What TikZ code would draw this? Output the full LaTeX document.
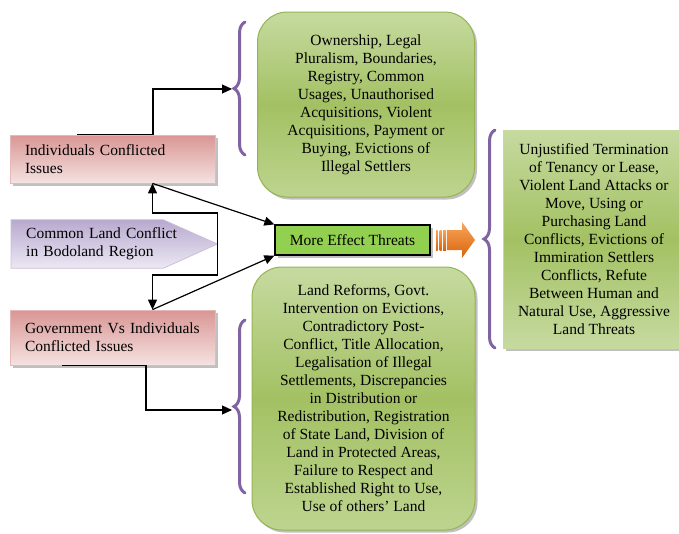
\documentclass[tikz,border=0pt]{standalone}
\usepackage{fontspec}
\setmainfont{Liberation Serif}
\usetikzlibrary{arrows.meta,shadows,decorations.pathreplacing,backgrounds}
\definecolor{pinktop}{HTML}{D99694}
\definecolor{pinkbot}{HTML}{F4E2E1}
\definecolor{pinkedge}{HTML}{E6B9B8}
\definecolor{purtop}{HTML}{B8A9CF}
\definecolor{purbot}{HTML}{ECE8F3}
\definecolor{puredge}{HTML}{CCC1DA}
\definecolor{grntop}{HTML}{C6DAA0}
\definecolor{grnmid}{HTML}{A3C163}
\definecolor{grnbot}{HTML}{BDD48F}
\definecolor{grnedge}{HTML}{94B452}
\definecolor{brightgrn}{HTML}{92D050}
\definecolor{bracecol}{HTML}{8064A2}
\definecolor{orgtop}{HTML}{F9A55A}
\definecolor{orgbot}{HTML}{D8640C}
\begin{document}
\begin{tikzpicture}[x=1pt,y=-1pt,
  txt/.style={font=\fontsize{15.5}{18}\selectfont},
  shad/.style={drop shadow={fill=black!45,opacity=.55,shadow xshift=2.5pt,shadow yshift=-2.5pt}},
  pinkbox/.style={txt,shad,draw=pinkedge,line width=0.8pt,top color=pinktop,bottom color=pinkbot,
    minimum width=205pt,text width=175pt,inner xsep=15pt,align=left},
  greenround/.style={txt,shad,draw=grnedge,line width=1pt,rounded corners=30pt,
    top color=grntop,bottom color=grnbot,middle color=grnmid,align=center,inner sep=0pt},
  greenrect/.style={txt,shad,draw=grntop,line width=0.8pt,
    top color=grntop,bottom color=grntop,middle color=grnmid,align=center,inner sep=0pt},
  threatbox/.style={txt,shad,draw=black,line width=1.2pt,fill=brightgrn,
    minimum width=155pt,minimum height=30pt,inner sep=0pt},
  cltext/.style={txt,minimum width=206pt,minimum height=48pt,text width=176pt,inner xsep=15pt,align=left},
  conn/.style={draw=black,line width=1.2pt},
  tip/.style={-{Triangle[length=10pt,width=9pt]}},
  bracestyle/.style={draw=bracecol,line width=3pt,line cap=round,
    decorate,decoration={brace,amplitude=11pt}}
]
\useasboundingbox (0,0) rectangle (679,533);

% boxes
\node[pinkbox,minimum height=48pt] (ind) at (112.5,159) {Individuals Conflicted\\Issues};
\node[pinkbox,minimum height=55pt] (gov) at (112.5,337.5) {Government Vs Individuals\\Conflicted Issues};
\node[cltext,anchor=west] (cl) at (11,244) {Common Land Conflict\\in Bodoland Region};
\begin{scope}[on background layer]
  \fill[black!45,opacity=.55,xshift=2.5pt,yshift=-2.5pt]
    (cl.north west) -- ([xshift=-54pt]cl.north east) -- (cl.east) -- ([xshift=-54pt]cl.south east) -- (cl.south west) -- cycle;
  \shade[top color=purtop,bottom color=purbot,draw=puredge,line width=0.8pt]
    (cl.north west) -- ([xshift=-54pt]cl.north east) -- (cl.east) -- ([xshift=-54pt]cl.south east) -- (cl.south west) -- cycle;
\end{scope}

\node[threatbox] (mt) at (352.5,240) {More Effect Threats};

\node[greenround,minimum width=217pt,minimum height=185pt] (top) at (366,104.5)
  {Ownership, Legal\\Pluralism, Boundaries,\\Registry, Common\\Usages, Unauthorised\\Acquisitions, Violent\\Acquisitions, Payment or\\Buying, Evictions of\\Illegal Settlers};
\node[greenround,minimum width=223pt,minimum height=263pt] (bot) at (363.5,398.5)
  {Land Reforms, Govt.\\Intervention on Evictions,\\Contradictory Post-\\Conflict, Title Allocation,\\Legalisation of Illegal\\Settlements, Discrepancies\\in Distribution or\\Redistribution, Registration\\of State Land, Division of\\Land in Protected Areas,\\Failure to Respect and\\Established Right to Use,\\Use of others’ Land};
\node[greenrect,minimum width=182pt,minimum height=218pt] (rt) at (594,239)
  {Unjustified Termination\\of Tenancy or Lease,\\Violent Land Attacks or\\Move, Using or\\Purchasing Land\\Conflicts, Evictions of\\Immiration Settlers\\Conflicts, Refute\\Between Human and\\Natural Use, Aggressive\\Land Threats};

% braces
\draw[bracestyle] (245,155) -- (245,22);
\draw[bracestyle] (495,348) -- (495,130);
\draw[bracestyle] (245,493) -- (245,320);
\coordinate (tb) at (232,89);
\coordinate (bb) at (232,410);

% connectors
\draw[conn,tip] ([xshift=-35.5pt]ind.north) -- ([xshift=40.5pt]ind.north) |- (tb);
\draw[conn,tip] (cl.east) -- (cl.east |- 0,213) -| ([xshift=40pt]ind.south);
\draw[conn,tip] (cl.east) -- (cl.east |- 0,275) -| ([xshift=40pt]gov.north);
\draw[conn,tip] ([xshift=40pt]ind.south) -- (mt.north west);
\draw[conn,tip] ([xshift=40pt]gov.north) -- (mt.south west);
\draw[conn,tip] ([xshift=-50.5pt]gov.south) -- ([xshift=33.5pt]gov.south) |- (bb);

% orange arrow
\begin{scope}[top color=orgtop,bottom color=orgbot]
  \shade (436,230) rectangle (437.5,250);
  \shade (439.5,230) rectangle (441.5,250);
  \shade (443,230) rectangle (446,250);
  \shade (447,230) -- (462,230) -- (462,222) -- (475,240) -- (462,258) -- (462,250) -- (447,250) -- cycle;
\end{scope}
\end{tikzpicture}
\end{document}
